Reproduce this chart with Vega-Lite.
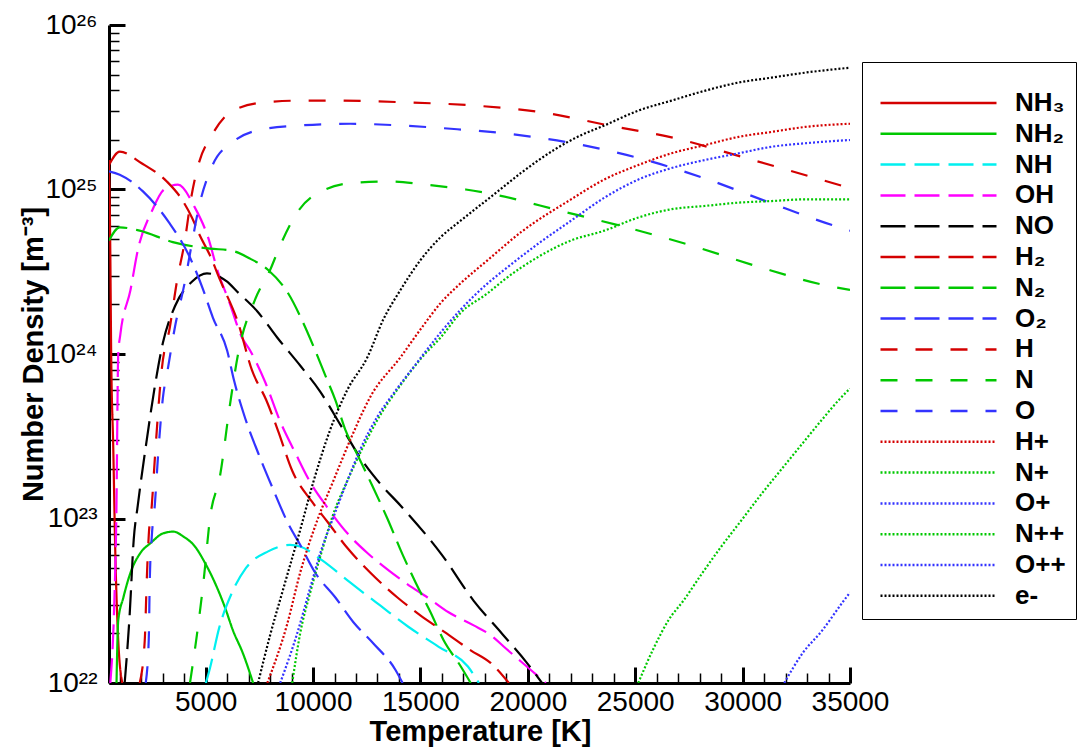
{
  "$schema": "https://vega.github.io/schema/vega-lite/v6.json",
  "width": 741,
  "height": 658,
  "autosize": {"type": "none"},
  "padding": {"left": 109, "top": 25, "right": 233, "bottom": 66},
  "background": "white",
  "config": {"view": {"stroke": null}, "font": "Liberation Sans"},
  "data": {"values": [
    {"s":"NH₃","T":500,"n":1.51e25},{"s":"NH₃","T":560,"n":4.27e24},{"s":"NH₃","T":600,"n":1.05e24},{"s":"NH₃","T":700,"n":2.63e23},{"s":"NH₃","T":790,"n":6.46e22},{"s":"NH₃","T":930,"n":1.82e22},{"s":"NH₃","T":1120,"n":1e22},
    {"s":"NH₂","T":850,"n":1e22},{"s":"NH₂","T":930,"n":2.4e22},{"s":"NH₂","T":1170,"n":3.31e22},{"s":"NH₂","T":1500,"n":4.68e22},{"s":"NH₂","T":1960,"n":6.17e22},{"s":"NH₂","T":2430,"n":7.08e22},{"s":"NH₂","T":3030,"n":8.13e22},{"s":"NH₂","T":3500,"n":8.32e22},{"s":"NH₂","T":3970,"n":7.76e22},{"s":"NH₂","T":4500,"n":6.76e22},{"s":"NH₂","T":4970,"n":5.37e22},{"s":"NH₂","T":5430,"n":4.07e22},{"s":"NH₂","T":5900,"n":2.88e22},{"s":"NH₂","T":6270,"n":2.09e22},{"s":"NH₂","T":6740,"n":1.51e22},{"s":"NH₂","T":7210,"n":1e22},
    {"s":"NH","T":5010,"n":1e22},{"s":"NH","T":5200,"n":1.23e22},{"s":"NH","T":5620,"n":2.14e22},{"s":"NH","T":6230,"n":3.55e22},{"s":"NH","T":6880,"n":5.01e22},{"s":"NH","T":7910,"n":6.31e22},{"s":"NH","T":8930,"n":6.92e22},{"s":"NH","T":9400,"n":6.76e22},{"s":"NH","T":10380,"n":5.62e22},{"s":"NH","T":11740,"n":4.07e22},{"s":"NH","T":13140,"n":2.95e22},{"s":"NH","T":14450,"n":2.19e22},{"s":"NH","T":15850,"n":1.66e22},{"s":"NH","T":17210,"n":1.26e22},{"s":"NH","T":17720,"n":1e22},
    {"s":"OH","T":560,"n":1e22},{"s":"OH","T":750,"n":3.16e22},{"s":"OH","T":840,"n":1e23},{"s":"OH","T":930,"n":1e24},{"s":"OH","T":1030,"n":1.32e24},{"s":"OH","T":1500,"n":2.45e24},{"s":"OH","T":1840,"n":4.27e24},{"s":"OH","T":2500,"n":7.41e24},{"s":"OH","T":3060,"n":1e25},{"s":"OH","T":3710,"n":1.07e25},{"s":"OH","T":4500,"n":7.76e24},{"s":"OH","T":5110,"n":5.13e24},{"s":"OH","T":5570,"n":3.16e24},{"s":"OH","T":6090,"n":2.09e24},{"s":"OH","T":6690,"n":1.26e24},{"s":"OH","T":7070,"n":1.05e24},{"s":"OH","T":7770,"n":6.76e23},{"s":"OH","T":8470,"n":3.89e23},{"s":"OH","T":9170,"n":2.51e23},{"s":"OH","T":9870,"n":1.66e23},{"s":"OH","T":10660,"n":1.17e23},{"s":"OH","T":11600,"n":8.13e22},{"s":"OH","T":12530,"n":6.17e22},{"s":"OH","T":13460,"n":4.9e22},{"s":"OH","T":14400,"n":3.98e22},{"s":"OH","T":15330,"n":3.31e22},{"s":"OH","T":16310,"n":2.69e22},{"s":"OH","T":17480,"n":2.24e22},{"s":"OH","T":18280,"n":1.95e22},{"s":"OH","T":18980,"n":1.62e22},{"s":"OH","T":20140,"n":1.2e22},{"s":"OH","T":20840,"n":1e22},
    {"s":"NO","T":1230,"n":1e22},{"s":"NO","T":1460,"n":2.57e22},{"s":"NO","T":1650,"n":7.41e22},{"s":"NO","T":1840,"n":1.2e23},{"s":"NO","T":2260,"n":3.02e23},{"s":"NO","T":2630,"n":6.31e23},{"s":"NO","T":3010,"n":1.17e24},{"s":"NO","T":3570,"n":1.95e24},{"s":"NO","T":4360,"n":2.75e24},{"s":"NO","T":5060,"n":3.09e24},{"s":"NO","T":6000,"n":2.75e24},{"s":"NO","T":6460,"n":2.4e24},{"s":"NO","T":7400,"n":1.82e24},{"s":"NO","T":8330,"n":1.26e24},{"s":"NO","T":9400,"n":8.51e23},{"s":"NO","T":10340,"n":5.89e23},{"s":"NO","T":11270,"n":3.72e23},{"s":"NO","T":12200,"n":2.34e23},{"s":"NO","T":13140,"n":1.62e23},{"s":"NO","T":14070,"n":1.2e23},{"s":"NO","T":15990,"n":6.03e22},{"s":"NO","T":17480,"n":3.16e22},{"s":"NO","T":18790,"n":2.0e22},{"s":"NO","T":19910,"n":1.35e22},{"s":"NO","T":20660,"n":1e22},
    {"s":"H₂","T":500,"n":1.41e25},{"s":"H₂","T":1000,"n":1.7e25},{"s":"H₂","T":2000,"n":1.45e25},{"s":"H₂","T":3190,"n":1.12e25},{"s":"H₂","T":3890,"n":8.71e24},{"s":"H₂","T":4360,"n":6.76e24},{"s":"H₂","T":4730,"n":5.25e24},{"s":"H₂","T":5200,"n":3.98e24},{"s":"H₂","T":5670,"n":2.82e24},{"s":"H₂","T":6510,"n":1.55e24},{"s":"H₂","T":7160,"n":7.94e23},{"s":"H₂","T":7820,"n":5.25e23},{"s":"H₂","T":8380,"n":3.39e23},{"s":"H₂","T":9030,"n":1.95e23},{"s":"H₂","T":9960,"n":1.26e23},{"s":"H₂","T":10670,"n":9.55e22},{"s":"H₂","T":11600,"n":6.61e22},{"s":"H₂","T":12670,"n":4.68e22},{"s":"H₂","T":13930,"n":3.31e22},{"s":"H₂","T":15010,"n":2.57e22},{"s":"H₂","T":16130,"n":2.04e22},{"s":"H₂","T":17340,"n":1.58e22},{"s":"H₂","T":18280,"n":1.32e22},{"s":"H₂","T":19120,"n":1e22},
    {"s":"N₂","T":500,"n":4.9e24},{"s":"N₂","T":1000,"n":5.89e24},{"s":"N₂","T":1930,"n":5.62e24},{"s":"N₂","T":3470,"n":4.79e24},{"s":"N₂","T":5200,"n":4.37e24},{"s":"N₂","T":6130,"n":4.27e24},{"s":"N₂","T":7070,"n":3.8e24},{"s":"N₂","T":7910,"n":3.24e24},{"s":"N₂","T":8840,"n":2.34e24},{"s":"N₂","T":9540,"n":1.55e24},{"s":"N₂","T":10100,"n":1.05e24},{"s":"N₂","T":10570,"n":7.41e23},{"s":"N₂","T":11040,"n":5.25e23},{"s":"N₂","T":11500,"n":3.47e23},{"s":"N₂","T":12060,"n":2.45e23},{"s":"N₂","T":12760,"n":1.58e23},{"s":"N₂","T":13460,"n":1e23},{"s":"N₂","T":14170,"n":6.03e22},{"s":"N₂","T":14780,"n":4.07e22},{"s":"N₂","T":15470,"n":2.69e22},{"s":"N₂","T":16080,"n":1.82e22},{"s":"N₂","T":16880,"n":1.26e22},{"s":"N₂","T":17340,"n":1e22},
    {"s":"O₂","T":500,"n":1.29e25},{"s":"O₂","T":1000,"n":1.23e25},{"s":"O₂","T":2070,"n":9.77e24},{"s":"O₂","T":3290,"n":6.31e24},{"s":"O₂","T":4220,"n":3.98e24},{"s":"O₂","T":4830,"n":2.57e24},{"s":"O₂","T":5340,"n":1.66e24},{"s":"O₂","T":6000,"n":1.05e24},{"s":"O₂","T":6320,"n":6.92e23},{"s":"O₂","T":6840,"n":4.07e23},{"s":"O₂","T":7440,"n":2.51e23},{"s":"O₂","T":8100,"n":1.55e23},{"s":"O₂","T":8840,"n":9.33e22},{"s":"O₂","T":9400,"n":6.92e22},{"s":"O₂","T":10100,"n":4.68e22},{"s":"O₂","T":11040,"n":3.31e22},{"s":"O₂","T":11880,"n":2.34e22},{"s":"O₂","T":12810,"n":1.74e22},{"s":"O₂","T":13840,"n":1.2e22},{"s":"O₂","T":14170,"n":1e22},
    {"s":"H","T":1930,"n":1e22},{"s":"H","T":2165,"n":1.82e22},{"s":"H","T":2259,"n":4.27e22},{"s":"H","T":2352,"n":7.94e22},{"s":"H","T":2492,"n":1.2e23},{"s":"H","T":2632,"n":2.29e23},{"s":"H","T":2959,"n":8.13e23},{"s":"H","T":3331,"n":1.45e24},{"s":"H","T":3660,"n":2.75e24},{"s":"H","T":4033,"n":4.9e24},{"s":"H","T":4313,"n":8.71e24},{"s":"H","T":4640,"n":1.38e25},{"s":"H","T":5294,"n":2.14e25},{"s":"H","T":6275,"n":3.02e25},{"s":"H","T":7770,"n":3.39e25},{"s":"H","T":9400,"n":3.47e25},{"s":"H","T":11130,"n":3.47e25},{"s":"H","T":14210,"n":3.39e25},{"s":"H","T":17480,"n":3.24e25},{"s":"H","T":20610,"n":2.95e25},{"s":"H","T":23790,"n":2.45e25},{"s":"H","T":26920,"n":2.04e25},{"s":"H","T":29960,"n":1.58e25},{"s":"H","T":33130,"n":1.2e25},{"s":"H","T":35000,"n":1.02e25},
    {"s":"N","T":4270,"n":1e22},{"s":"N","T":4590,"n":1.95e22},{"s":"N","T":4920,"n":4.37e22},{"s":"N","T":5200,"n":1e23},{"s":"N","T":5670,"n":1.82e23},{"s":"N","T":6130,"n":4.9e23},{"s":"N","T":6510,"n":1e24},{"s":"N","T":7300,"n":2.14e24},{"s":"N","T":8000,"n":3.24e24},{"s":"N","T":8470,"n":4.57e24},{"s":"N","T":9260,"n":7.24e24},{"s":"N","T":10570,"n":1e25},{"s":"N","T":11970,"n":1.1e25},{"s":"N","T":13600,"n":1.12e25},{"s":"N","T":15240,"n":1.07e25},{"s":"N","T":17110,"n":1e25},{"s":"N","T":18420,"n":9.33e24},{"s":"N","T":21540,"n":7.41e24},{"s":"N","T":24580,"n":5.89e24},{"s":"N","T":27610,"n":4.57e24},{"s":"N","T":30750,"n":3.39e24},{"s":"N","T":33780,"n":2.63e24},{"s":"N","T":35000,"n":2.45e24},
    {"s":"O","T":2210,"n":1e22},{"s":"O","T":2352,"n":1.86e22},{"s":"O","T":2399,"n":4.27e22},{"s":"O","T":2492,"n":7.76e22},{"s":"O","T":2632,"n":1.2e23},{"s":"O","T":2772,"n":2.29e23},{"s":"O","T":3006,"n":5.37e23},{"s":"O","T":3240,"n":8.13e23},{"s":"O","T":3566,"n":1.45e24},{"s":"O","T":4033,"n":2.75e24},{"s":"O","T":4313,"n":4.37e24},{"s":"O","T":4734,"n":8.32e24},{"s":"O","T":5294,"n":1.38e25},{"s":"O","T":6275,"n":1.95e25},{"s":"O","T":7770,"n":2.34e25},{"s":"O","T":9400,"n":2.45e25},{"s":"O","T":11740,"n":2.51e25},{"s":"O","T":14070,"n":2.45e25},{"s":"O","T":16410,"n":2.34e25},{"s":"O","T":18980,"n":2.19e25},{"s":"O","T":22110,"n":1.91e25},{"s":"O","T":25190,"n":1.55e25},{"s":"O","T":28230,"n":1.17e25},{"s":"O","T":31260,"n":8.32e24},{"s":"O","T":34250,"n":6.03e24},{"s":"O","T":35000,"n":5.62e24},
    {"s":"H+","T":7870,"n":1e22},{"s":"H+","T":8800,"n":2.29e22},{"s":"H+","T":9400,"n":4.68e22},{"s":"H+","T":10200,"n":9.77e22},{"s":"H+","T":10950,"n":1.7e23},{"s":"H+","T":11740,"n":3.02e23},{"s":"H+","T":12670,"n":5.5e23},{"s":"H+","T":14070,"n":9.55e23},{"s":"H+","T":15000,"n":1.41e24},{"s":"H+","T":15940,"n":2.04e24},{"s":"H+","T":16870,"n":2.69e24},{"s":"H+","T":18130,"n":3.72e24},{"s":"H+","T":19680,"n":5.5e24},{"s":"H+","T":22010,"n":8.71e24},{"s":"H+","T":23560,"n":1.15e25},{"s":"H+","T":25150,"n":1.41e25},{"s":"H+","T":26690,"n":1.66e25},{"s":"H+","T":28230,"n":1.86e25},{"s":"H+","T":29820,"n":2.09e25},{"s":"H+","T":31360,"n":2.24e25},{"s":"H+","T":32900,"n":2.4e25},{"s":"H+","T":35000,"n":2.51e25},
    {"s":"N+","T":9030,"n":1e22},{"s":"N+","T":9400,"n":2.0e22},{"s":"N+","T":9870,"n":3.55e22},{"s":"N+","T":10340,"n":5.89e22},{"s":"N+","T":10950,"n":1.07e23},{"s":"N+","T":11600,"n":1.7e23},{"s":"N+","T":12200,"n":2.51e23},{"s":"N+","T":13000,"n":3.98e23},{"s":"N+","T":14070,"n":6.46e23},{"s":"N+","T":15140,"n":9.77e23},{"s":"N+","T":15940,"n":1.26e24},{"s":"N+","T":16870,"n":1.78e24},{"s":"N+","T":18130,"n":2.34e24},{"s":"N+","T":18890,"n":2.82e24},{"s":"N+","T":20480,"n":3.89e24},{"s":"N+","T":22010,"n":4.9e24},{"s":"N+","T":23560,"n":5.62e24},{"s":"N+","T":25150,"n":6.76e24},{"s":"N+","T":26690,"n":7.59e24},{"s":"N+","T":28230,"n":7.94e24},{"s":"N+","T":29820,"n":8.32e24},{"s":"N+","T":31360,"n":8.51e24},{"s":"N+","T":32900,"n":8.71e24},{"s":"N+","T":35000,"n":8.71e24},
    {"s":"O+","T":8470,"n":1e22},{"s":"O+","T":9260,"n":2.0e22},{"s":"O+","T":9870,"n":3.8e22},{"s":"O+","T":10340,"n":6.17e22},{"s":"O+","T":10950,"n":1.02e23},{"s":"O+","T":11600,"n":1.7e23},{"s":"O+","T":12200,"n":2.63e23},{"s":"O+","T":13000,"n":4.17e23},{"s":"O+","T":13740,"n":5.75e23},{"s":"O+","T":14680,"n":8.32e23},{"s":"O+","T":15940,"n":1.35e24},{"s":"O+","T":16870,"n":1.86e24},{"s":"O+","T":18130,"n":2.69e24},{"s":"O+","T":18890,"n":3.24e24},{"s":"O+","T":20480,"n":4.68e24},{"s":"O+","T":22010,"n":6.46e24},{"s":"O+","T":23560,"n":8.91e24},{"s":"O+","T":25150,"n":1.15e25},{"s":"O+","T":26690,"n":1.35e25},{"s":"O+","T":28230,"n":1.51e25},{"s":"O+","T":29820,"n":1.66e25},{"s":"O+","T":31360,"n":1.82e25},{"s":"O+","T":32900,"n":1.91e25},{"s":"O+","T":35000,"n":2.0e25},
    {"s":"N++","T":25140,"n":1e22},{"s":"N++","T":25890,"n":1.66e22},{"s":"N++","T":26540,"n":2.4e22},{"s":"N++","T":27240,"n":3.16e22},{"s":"N++","T":28080,"n":4.57e22},{"s":"N++","T":29010,"n":6.76e22},{"s":"N++","T":29950,"n":9.77e22},{"s":"N++","T":30880,"n":1.41e23},{"s":"N++","T":31820,"n":2.0e23},{"s":"N++","T":32750,"n":2.82e23},{"s":"N++","T":33690,"n":3.98e23},{"s":"N++","T":34620,"n":5.5e23},{"s":"N++","T":35000,"n":6.17e23},
    {"s":"O++","T":31940,"n":1e22},{"s":"O++","T":32780,"n":1.51e22},{"s":"O++","T":33710,"n":2.09e22},{"s":"O++","T":34650,"n":3.09e22},{"s":"O++","T":35000,"n":3.55e22},
    {"s":"e-","T":7440,"n":1e22},{"s":"e-","T":8000,"n":1.95e22},{"s":"e-","T":8610,"n":3.72e22},{"s":"e-","T":9400,"n":8.51e22},{"s":"e-","T":10010,"n":1.66e23},{"s":"e-","T":10800,"n":3.47e23},{"s":"e-","T":11590,"n":6.03e23},{"s":"e-","T":12530,"n":9.55e23},{"s":"e-","T":13270,"n":1.62e24},{"s":"e-","T":14070,"n":2.45e24},{"s":"e-","T":15000,"n":3.72e24},{"s":"e-","T":15940,"n":5.13e24},{"s":"e-","T":16870,"n":6.46e24},{"s":"e-","T":18420,"n":9.33e24},{"s":"e-","T":19680,"n":1.26e25},{"s":"e-","T":21220,"n":1.74e25},{"s":"e-","T":22480,"n":2.14e25},{"s":"e-","T":23560,"n":2.45e25},{"s":"e-","T":25150,"n":3.02e25},{"s":"e-","T":26690,"n":3.47e25},{"s":"e-","T":28230,"n":3.98e25},{"s":"e-","T":29820,"n":4.47e25},{"s":"e-","T":31360,"n":4.79e25},{"s":"e-","T":32900,"n":5.13e25},{"s":"e-","T":35000,"n":5.5e25}
  ]},
  "mark": {"type": "line", "strokeWidth": 2.2, "clip": true, "interpolate": "monotone"},
  "encoding": {
    "x": {
      "field": "T", "type": "quantitative",
      "scale": {"domain": [500, 35000], "nice": false, "zero": false},
      "axis": {
        "title": "Temperature [K]",
        "titleFont": "Liberation Sans", "titleFontSize": 29, "titleFontWeight": "bold", "titleColor": "black",
        "titleX": 371, "titleY": 57, "titleBaseline": "alphabetic", "titleAnchor": "middle",
        "values": [1000,2000,3000,4000,5000,6000,7000,8000,9000,10000,11000,12000,13000,14000,15000,16000,17000,18000,19000,20000,21000,22000,23000,24000,25000,26000,27000,28000,29000,30000,31000,32000,33000,34000,35000],
        "labelExpr": "datum.value % 5000 == 0 ? format(datum.value, 'd') : ''",
        "labelFontSize": 28, "labelColor": "black", "labelPadding": 21, "labelOverlap": false, "labelFlush": false,
        "tickSize": {"condition": {"test": "datum.value % 5000 == 0", "value": -16}, "value": -10},
        "tickWidth": {"condition": {"test": "datum.value % 5000 == 0", "value": 3}, "value": 1.5},
        "tickColor": "black",
        "domainColor": "black", "domainWidth": 3, "grid": false
      }
    },
    "y": {
      "field": "n", "type": "quantitative",
      "scale": {"type": "log", "domain": [1e22, 1e26], "nice": false},
      "axis": {
        "title": "Number Density [m⁻³]",
        "titleFont": "Liberation Sans", "titleFontSize": 29, "titleFontWeight": "bold", "titleColor": "black",
        "titleAngle": -90, "titleX": -67, "titleY": 329, "titleBaseline": "alphabetic", "titleAnchor": "middle",
        "values": [1e22,2e22,3e22,4e22,5e22,6e22,7e22,8e22,9e22,1e23,2e23,3e23,4e23,5e23,6e23,7e23,8e23,9e23,1e24,2e24,3e24,4e24,5e24,6e24,7e24,8e24,9e24,1e25,2e25,3e25,4e25,5e25,6e25,7e25,8e25,9e25,1e26],
        "labelExpr": "abs(log(datum.value)/LN10 - round(log(datum.value)/LN10)) < 0.001 ? '10' + ['²²','²³','²⁴','²⁵','²⁶'][round(log(datum.value)/LN10) - 22] : ''",
        "labelFontSize": 28, "labelColor": "black", "labelPadding": 28, "labelOverlap": false, "labelFlush": false,
        "tickSize": {"condition": {"test": "abs(log(datum.value)/LN10 - round(log(datum.value)/LN10)) < 0.001", "value": -16}, "value": -10},
        "tickWidth": {"condition": {"test": "abs(log(datum.value)/LN10 - round(log(datum.value)/LN10)) < 0.001", "value": 3}, "value": 1.5},
        "tickColor": "black",
        "domainColor": "black", "domainWidth": 3, "grid": false
      }
    },
    "color": {
      "field": "s", "type": "nominal",
      "scale": {
        "domain": ["NH₃","NH₂","NH","OH","NO","H₂","N₂","O₂","H","N","O","H+","N+","O+","N++","O++","e-"],
        "range": ["#d40000","#00c800","#00f0f0","#ff00ff","#000000","#d40000","#00c800","#3333ff","#d40000","#00c800","#3333ff","#d40000","#00c800","#3333ff","#00c800","#3333ff","#000000"]
      },
      "legend": {
        "title": " ", "titleFontSize": 14, "titlePadding": 4,
        "orient": "none", "legendX": 753, "legendY": 37,
        "symbolType": "stroke", "symbolSize": 13456, "symbolStrokeWidth": 2.5, "symbolOffset": 7,
        "clipHeight": 26,
        "labelFont": "Liberation Sans", "labelFontSize": 26, "labelFontWeight": "bold", "labelColor": "black",
        "labelOffset": 17, "rowPadding": 4.8, "padding": 10,
        "strokeColor": "black", "fillColor": "white"
      }
    },
    "strokeDash": {
      "field": "s", "type": "nominal",
      "scale": {
        "domain": ["NH₃","NH₂","NH","OH","NO","H₂","N₂","O₂","H","N","O","H+","N+","O+","N++","O++","e-"],
        "range": [[1,0],[1,0],[25,9],[25,9],[25,9],[25,9],[25,9],[25,9],[17,18],[17,18],[17,18],[2,2],[2,2],[2,2],[2,2],[2,2],[2,2]]
      },
      "legend": {
        "title": " ", "titleFontSize": 14, "titlePadding": 4,
        "orient": "none", "legendX": 753, "legendY": 37,
        "symbolType": "stroke", "symbolSize": 13456, "symbolStrokeWidth": 2.5, "symbolOffset": 7,
        "clipHeight": 26,
        "labelFont": "Liberation Sans", "labelFontSize": 26, "labelFontWeight": "bold", "labelColor": "black",
        "labelOffset": 17, "rowPadding": 4.8, "padding": 10,
        "strokeColor": "black", "fillColor": "white"
      }
    }
  }
}
